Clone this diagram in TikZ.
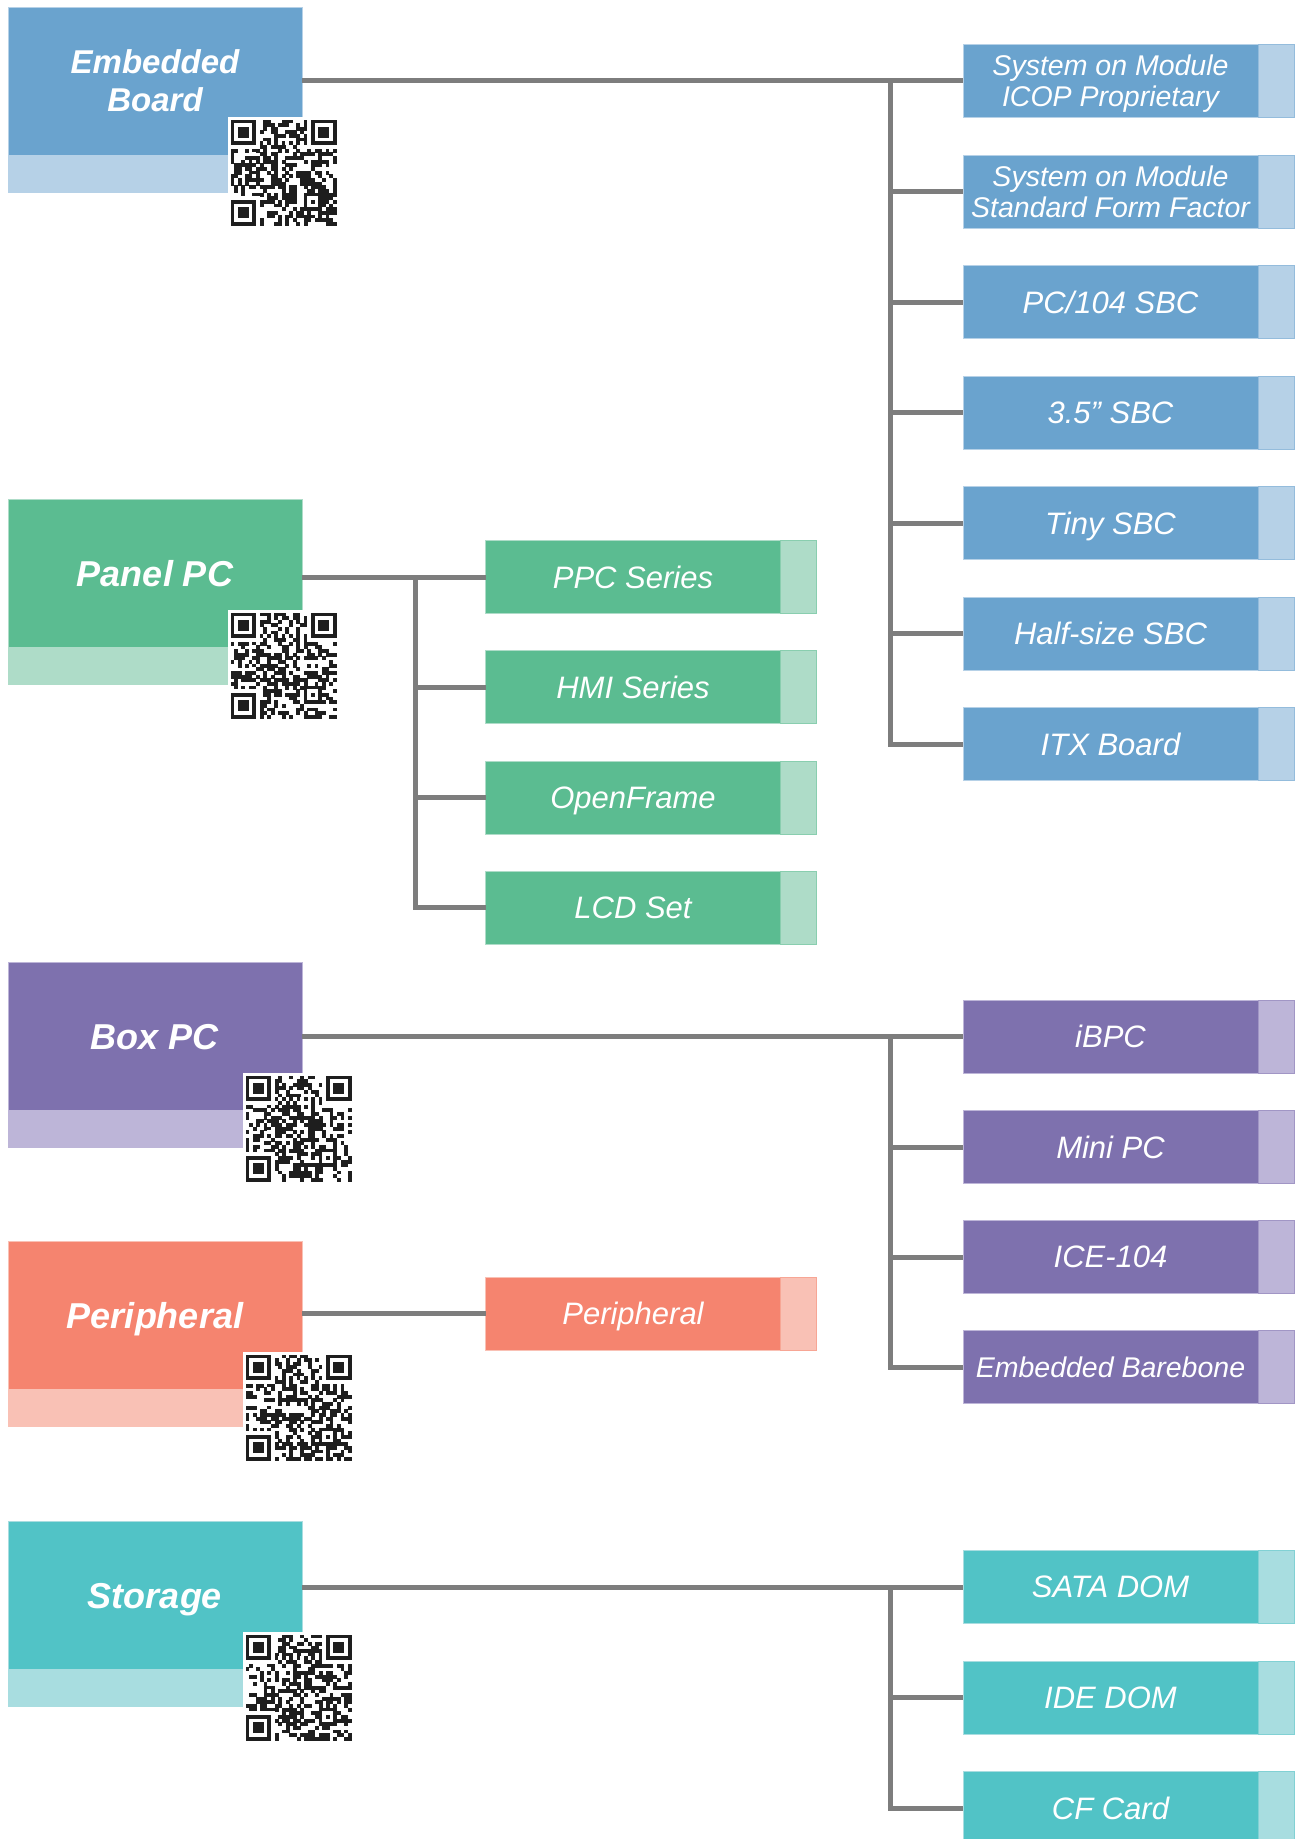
\documentclass[tikz,border=0pt]{standalone}
\usepackage{fontspec}
\setmainfont{Liberation Sans}
\definecolor{bluD}{RGB}{106,163,206}
\definecolor{bluL}{RGB}{182,209,231}
\definecolor{grnD}{RGB}{91,188,145}
\definecolor{grnL}{RGB}{174,220,200}
\definecolor{purD}{RGB}{126,113,174}
\definecolor{purL}{RGB}{189,181,216}
\definecolor{salD}{RGB}{245,132,111}
\definecolor{salL}{RGB}{249,193,181}
\definecolor{teaD}{RGB}{81,195,198}
\definecolor{teaL}{RGB}{168,221,224}
\definecolor{lineGray}{RGB}{125,125,125}
\definecolor{qrink}{RGB}{30,30,30}
\tikzset{
  conn/.style={draw=lineGray, line width=5pt},
  mainbox/.style={fill=#1D, draw=#1L, line width=1pt, minimum width=294pt, minimum height=148pt,
    inner sep=0pt, outer sep=0pt, text=white, align=center, text depth=0pt,
    font=\bfseries\itshape\fontsize{36}{40}\selectfont},
  mainstrip/.style={fill=#1L, draw=#1L, line width=1pt, minimum width=294pt, minimum height=37pt,
    inner sep=0pt, outer sep=0pt, anchor=north},
  subbox/.style={fill=#1D, draw=#1L, line width=1pt, minimum width=295pt, minimum height=73pt,
    inner sep=0pt, outer sep=0pt, text=white, align=center, text depth=0pt,
    font=\itshape\fontsize{31}{34}\selectfont},
  subtab/.style={fill=#1L, draw=#1D!45!#1L, line width=1pt, minimum width=36pt, minimum height=73pt,
    inner sep=0pt, outer sep=0pt, anchor=west},
  twoline/.style={font=\itshape\fontsize{28.5}{31}\selectfont},
}
\newcommand\qrsym[3]{%
  \begin{scope}[shift={(#1,#2)}]
    \fill[white] (0,0) rectangle (111,111);
    \pgfmathsetseed{#3}
    \begin{scope}[shift={(2.5,2.5)}, x=3.66pt, y=-3.66pt]
      \foreach \i in {0,...,28}{\foreach \j in {0,...,28}{%
        \pgfmathrandominteger{\qrr}{0}{99}%
        \ifnum\qrr<48 \fill[qrink] (\i,\j) rectangle ++(1.04,1.04);\fi}}
      \fill[white] (0,0) rectangle (8,8);
      \fill[white] (21,0) rectangle (29,8);
      \fill[white] (0,21) rectangle (8,29);
      \foreach \a/\b in {0/0,22/0,0/22}{%
        \fill[qrink] (\a,\b) rectangle ++(7,7);
        \fill[white] (\a+1,\b+1) rectangle ++(5,5);
        \fill[qrink] (\a+2,\b+2) rectangle ++(3,3);}
      \fill[qrink] (20,20) rectangle ++(5,5);
      \fill[white] (21,21) rectangle ++(3,3);
      \fill[qrink] (22,22) rectangle ++(1,1);
      \foreach \k in {8,10,...,20}{%
        \fill[qrink] (\k,6) rectangle ++(1,1);
        \fill[qrink] (6,\k) rectangle ++(1,1);}
      \foreach \k in {9,11,...,19}{%
        \fill[white] (\k,6) rectangle ++(1,1);
        \fill[white] (6,\k) rectangle ++(1,1);}
    \end{scope}
  \end{scope}}
\begin{document}
\begin{tikzpicture}[x=1pt, y=-1pt]
\useasboundingbox (0,0) rectangle (1298,1839);
\clip (0,0) rectangle (1298,1839);

% ---------- main boxes ----------
\node[mainbox=blu, font=\bfseries\itshape\fontsize{33}{38}\selectfont] (eb) at (155,81) {Embedded\\Board};
\node[mainstrip=blu] (ebs) at (eb.south) {};
\node[mainbox=grn] (pp) at (155,573.5) {Panel PC};
\node[mainstrip=grn] (pps) at (pp.south) {};
\node[mainbox=pur] (bp) at (155,1036.5) {Box PC};
\node[mainstrip=pur] (bps) at (bp.south) {};
\node[mainbox=sal] (pe) at (155,1315.5) {Peripheral};
\node[mainstrip=sal] (pes) at (pe.south) {};
\node[mainbox=tea] (st) at (155,1595.5) {Storage};
\node[mainstrip=tea] (sts) at (st.south) {};

% ---------- embedded board group ----------
\node[subbox=blu, twoline] (e1) at (1110.5,80.5) {System on Module\\ ICOP Proprietary};
\node[subbox=blu, twoline] (e2) at (1110.5,191.5) {System on Module\\Standard Form Factor};
\node[subbox=blu] (e3) at (1110.5,302) {PC/104 SBC};
\node[subbox=blu] (e4) at (1110.5,412.5) {3.5" SBC};
\node[subbox=blu] (e5) at (1110.5,523) {Tiny SBC};
\node[subbox=blu] (e6) at (1110.5,633.5) {Half-size SBC};
\node[subbox=blu] (e7) at (1110.5,744) {ITX Board};
\foreach \n in {e1,e2,e3,e4,e5,e6,e7}{\node[subtab=blu] (\n t) at (\n.east) {};}

% ---------- panel pc group ----------
\node[subbox=grn] (p1) at (633,577) {PPC Series};
\node[subbox=grn] (p2) at (633,687) {HMI Series};
\node[subbox=grn] (p3) at (633,797.5) {OpenFrame};
\node[subbox=grn] (p4) at (633,907.5) {LCD Set};
\foreach \n in {p1,p2,p3,p4}{\node[subtab=grn] (\n t) at (\n.east) {};}

% ---------- box pc group ----------
\node[subbox=pur] (b1) at (1110.5,1036.5) {iBPC};
\node[subbox=pur] (b2) at (1110.5,1147) {Mini PC};
\node[subbox=pur] (b3) at (1110.5,1257) {ICE-104};
\node[subbox=pur, twoline] (b4) at (1110.5,1367) {Embedded Barebone};
\foreach \n in {b1,b2,b3,b4}{\node[subtab=pur] (\n t) at (\n.east) {};}

% ---------- peripheral ----------
\node[subbox=sal] (r1) at (633,1313.5) {Peripheral};
\node[subtab=sal] (r1t) at (r1.east) {};

% ---------- storage group ----------
\node[subbox=tea] (t1) at (1110.5,1587) {SATA DOM};
\node[subbox=tea] (t2) at (1110.5,1697.5) {IDE DOM};
\node[subbox=tea] (t3) at (1110.5,1808) {CF Card};
\foreach \n in {t1,t2,t3}{\node[subtab=tea] (\n t) at (\n.east) {};}

% ---------- connectors ----------
\path (e1.west) ++(-73,0) coordinate (ebus);
\draw[conn] (eb.east |- e1.west) -- (e1.west);
\draw[conn] (ebus) |- (e7.west);
\foreach \n in {e2,e3,e4,e5,e6}{\draw[conn] (ebus |- \n.west) -- (\n.west);}

\path (p1.west) ++(-70.5,0) coordinate (pbus);
\draw[conn] (pp.east |- p1.west) -- (p1.west);
\draw[conn] (pbus) |- (p4.west);
\foreach \n in {p2,p3}{\draw[conn] (pbus |- \n.west) -- (\n.west);}

\path (b1.west) ++(-73,0) coordinate (bbus);
\draw[conn] (bp.east |- b1.west) -- (b1.west);
\draw[conn] (bbus) |- (b4.west);
\foreach \n in {b2,b3}{\draw[conn] (bbus |- \n.west) -- (\n.west);}

\draw[conn] (pe.east |- r1.west) -- (r1.west);

\path (t1.west) ++(-73,0) coordinate (tbus);
\draw[conn] (st.east |- t1.west) -- (t1.west);
\draw[conn] (tbus) |- (t3.west);
\draw[conn] (tbus |- t2.west) -- (t2.west);

% ---------- QR codes ----------
\qrsym{228}{117}{11}
\qrsym{228}{610}{23}
\qrsym{243}{1073}{37}
\qrsym{243}{1352}{49}
\qrsym{243}{1632}{61}
\end{tikzpicture}
\end{document}
